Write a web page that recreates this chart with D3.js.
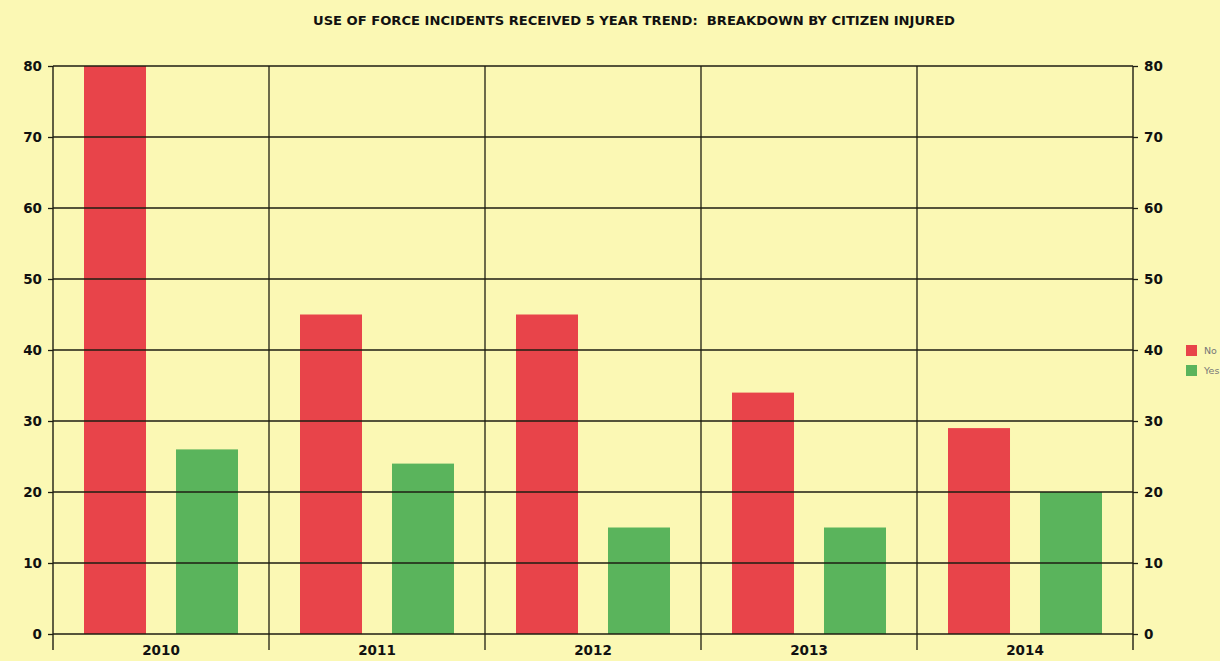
<!DOCTYPE html>
<html><head><meta charset="utf-8">
<script src="https://cdn.jsdelivr.net/npm/d3@7"></script>
<style>html,body{margin:0;padding:0;background:#fbf8b4;}svg{display:block;}</style>
</head><body>
<svg id="c" width="1220" height="661"></svg>
<script>
const years = ["2010","2011","2012","2013","2014"];
const seriesNames = ["No","Yes"];
const noValues = [80,45,45,34,29];
const yesValues = [26,24,15,15,20];
const yTicks = [0,10,20,30,40,50,60,70,80];
const title = "USE OF FORCE INCIDENTS RECEIVED 5 YEAR TREND:  BREAKDOWN BY CITIZEN INJURED";
const colors = {No:"#e8444a", Yes:"#5ab45c"};

const svg = d3.select("#c");
const L = 53, R = 1133, T = 66, B = 634;
svg.append("rect").attr("width",1220).attr("height",661).attr("fill","#fbf8b4");

const x = d3.scaleBand().domain(years).range([L,R]);
const xs = d3.scaleBand().domain(seriesNames).range([0,x.bandwidth()]).paddingInner(0.326).paddingOuter(0.337);
const y = d3.scaleLinear().domain([0,80]).range([B,T]);

const data = years.map((yr,i)=>({year:yr, No:noValues[i], Yes:yesValues[i]}));

// bars
const g = svg.append("g");
data.forEach(d=>{
  seriesNames.forEach(s=>{
    g.append("rect").attr("x",x(d.year)+xs(s)).attr("width",xs.bandwidth())
      .attr("y",y(d[s])).attr("height",B-y(d[s])).attr("fill",colors[s]);
  });
});

const lineCol = "#1e1e12";
// gridlines
svg.append("g").selectAll("line").data(yTicks).join("line")
  .attr("x1",L).attr("x2",R).attr("y1",d=>y(d)).attr("y2",d=>y(d))
  .attr("stroke",lineCol).attr("stroke-width",1.3);

// category separators
svg.append("g").selectAll("line").data(years.slice(1)).join("line")
  .attr("x1",d=>x(d)).attr("x2",d=>x(d)).attr("y1",T).attr("y2",650)
  .attr("stroke",lineCol).attr("stroke-width",1.3);

// axes
const la = svg.append("g").attr("transform",`translate(${L},0)`)
  .call(d3.axisLeft(y).tickValues(yTicks).tickSize(5).tickPadding(6));
const ra = svg.append("g").attr("transform",`translate(${R},0)`)
  .call(d3.axisRight(y).tickValues(yTicks).tickSize(5).tickPadding(6));
[la,ra].forEach(a=>{
  a.select(".domain").remove();
  a.selectAll(".tick line").attr("stroke",lineCol).attr("stroke-width",1.3);
  a.selectAll("text").attr("font-family","'DejaVu Sans', sans-serif").attr("font-weight","bold")
    .attr("font-size",13.5).attr("fill","#111");
});
[L,R].forEach(xx=>svg.append("line").attr("x1",xx).attr("x2",xx).attr("y1",T).attr("y2",650)
  .attr("stroke",lineCol).attr("stroke-width",1.4));

// x axis labels
const xa = svg.append("g").attr("transform",`translate(0,${B})`)
  .call(d3.axisBottom(x).tickSize(0).tickPadding(11));
xa.select(".domain").remove();
xa.selectAll("text").attr("font-family","'DejaVu Sans', sans-serif").attr("font-weight","bold")
  .attr("font-size",13.5).attr("fill","#111");

// title
svg.append("text").attr("x",634).attr("y",25).attr("text-anchor","middle")
  .style("white-space","pre")
  .attr("font-family","'DejaVu Sans Condensed','DejaVu Sans',sans-serif").attr("font-weight","bold")
  .attr("font-size",12).attr("fill","#111").attr("textLength",642).attr("lengthAdjust","spacingAndGlyphs")
  .text(title);

// legend
const lg = svg.append("g").attr("transform","translate(1186,345)");
seriesNames.forEach((s,i)=>{
  lg.append("rect").attr("x",0).attr("y",i*20).attr("width",11).attr("height",11).attr("fill",colors[s]);
  lg.append("text").attr("x",18).attr("y",i*20+9).attr("font-family","'DejaVu Sans',sans-serif")
    .attr("font-size",9.5).attr("fill","#777").text(s);
});
</script>
</body></html>
